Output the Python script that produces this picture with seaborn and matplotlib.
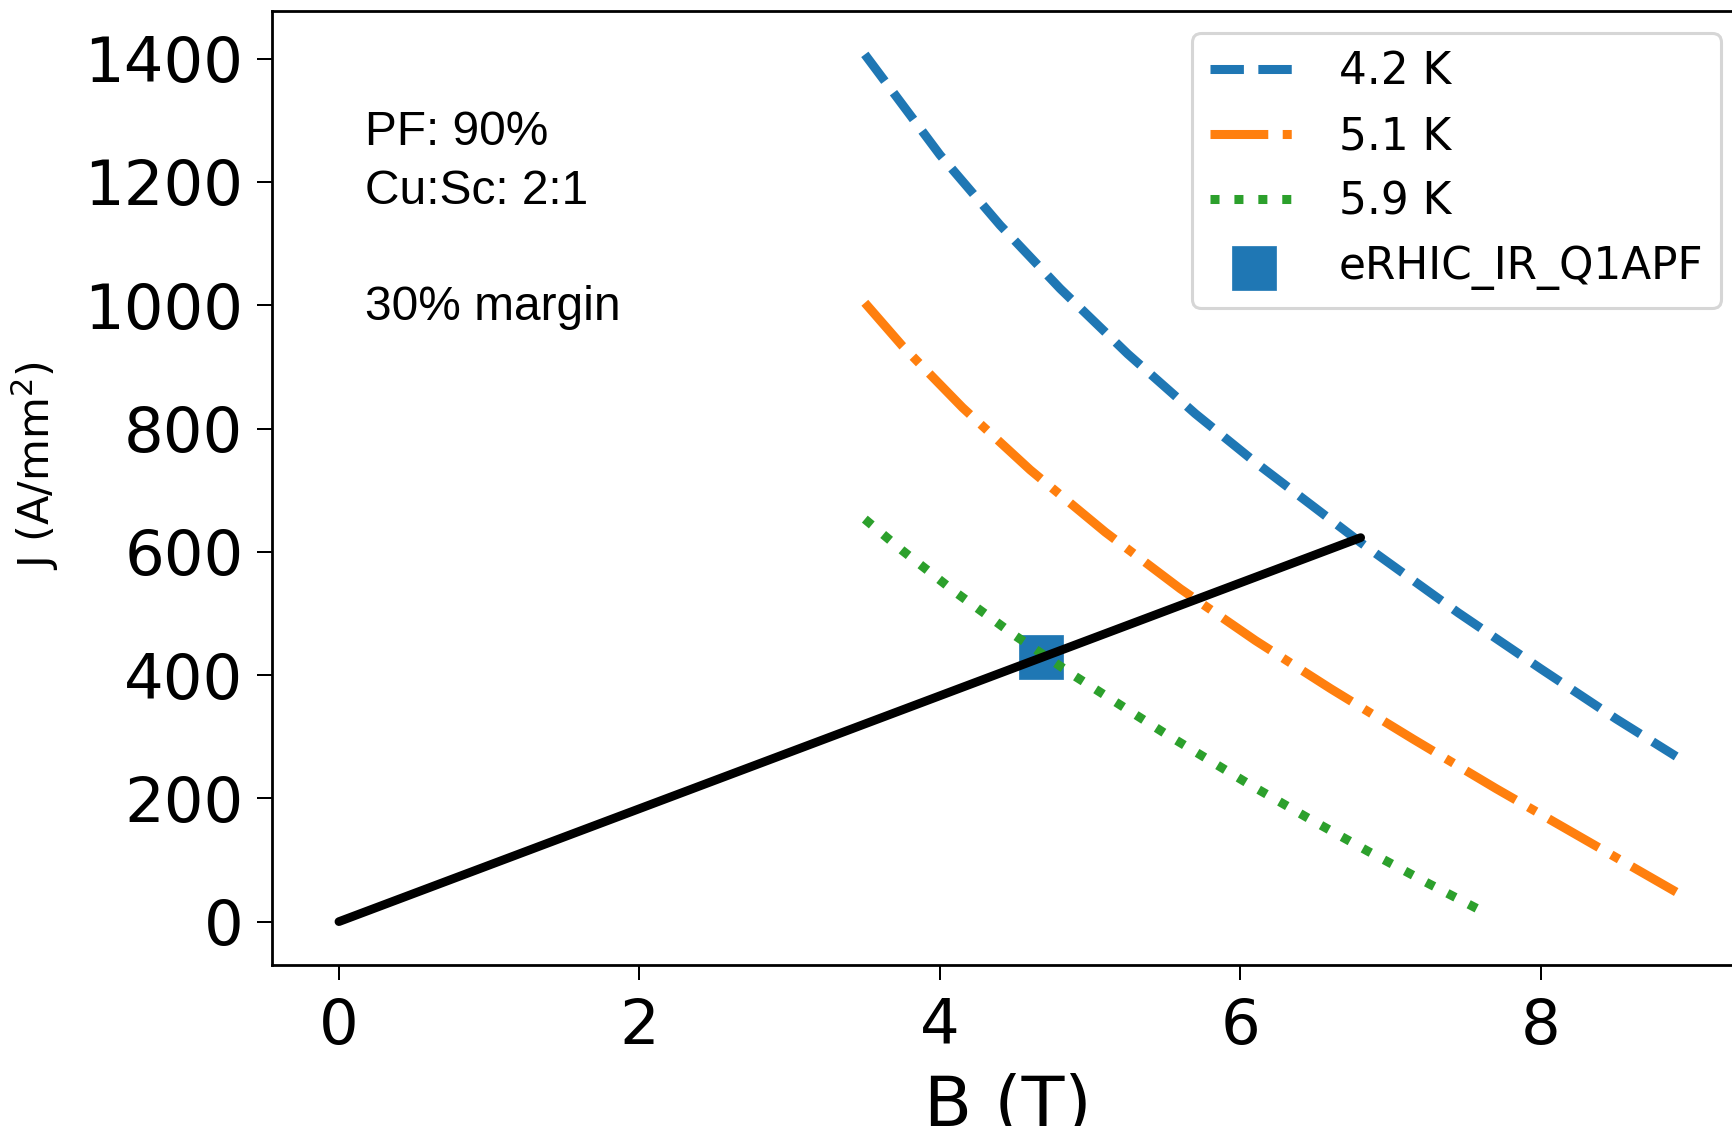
import matplotlib
matplotlib.use("Agg")
import matplotlib.pyplot as plt
import seaborn as sns

# ─── DATA ─────────────────────────────────────────────────────────────────────
B_42 = [3.5, 4.0, 4.4, 4.8, 5.25, 5.7, 6.1, 6.8, 7.45, 8.0, 8.5, 8.9]
J_42 = [1407, 1244, 1130, 1027, 921, 824, 745, 615, 501, 410, 329, 268]

B_51 = [3.5, 3.75, 4.15, 4.6, 5.1, 5.6, 6.1, 6.6, 7.15, 7.7, 8.25, 8.9]
J_51 = [1004, 934, 834, 733, 632, 540, 456, 378, 296, 216, 139, 48]

B_59 = [3.5, 3.75, 4.1, 4.5, 4.9, 5.5, 6.05, 6.45, 6.85, 7.25, 7.6]
J_59 = [653, 602, 535, 464, 398, 305, 224, 168, 114, 62, 18]

# magnet load line and operating point
LOAD_B = [0, 6.8]
LOAD_J = [0, 623]
OP_B = [4.67]
OP_J = [430]

SERIES_LABELS = ["4.2 K", "5.1 K", "5.9 K"]
OP_LABEL = "eRHIC_IR_Q1APF"
NOTE = "PF: 90%\nCu:Sc: 2:1\n\n30% margin"
# ──────────────────────────────────────────────────────────────────────────────

sns.set_theme(style="ticks", rc={
    "axes.edgecolor": "black",
    "axes.labelcolor": "black",
    "text.color": "black",
    "xtick.color": "black",
    "ytick.color": "black",
})
plt.rcParams["font.family"] = ["DejaVu Sans"]

pal = sns.color_palette("tab10")

fig = plt.figure(figsize=(17.33, 11.26), dpi=100)
# axes run past the right edge on purpose (reference is a cropped screenshot)
ax = fig.add_axes([0.157, 0.143, 0.8488, 0.8472])

lw = 6.5
sns.lineplot(x=B_42, y=J_42, color=pal[0], linestyle="--", linewidth=lw,
             label=SERIES_LABELS[0], ax=ax)
sns.lineplot(x=B_51, y=J_51, color=pal[1], linestyle="-.", linewidth=lw,
             label=SERIES_LABELS[1], ax=ax)
sns.lineplot(x=B_59, y=J_59, color=pal[2], linestyle=":", linewidth=lw,
             label=SERIES_LABELS[2], ax=ax)
sns.lineplot(x=LOAD_B, y=LOAD_J, color="black", linewidth=6.3, ax=ax)
sns.scatterplot(x=OP_B, y=OP_J, marker="s", s=960, color=pal[0],
                edgecolor=pal[0], linewidth=0.5, label=OP_LABEL, ax=ax, zorder=1)

ax.text(0.0632, 0.896, NOTE, transform=ax.transAxes, ha="left", va="top",
        fontsize=34.5, family=["Liberation Sans"], linespacing=1.38)

ax.set_xlabel("B (T)", fontsize=50.5, labelpad=12)
ax.set_ylabel("J (A/mm$^2$)", fontsize=31)
ax.yaxis.set_label_coords(-0.1436, 0.523)
ax.set_xticks([0, 2, 4, 6, 8])
ax.set_yticks([0, 200, 400, 600, 800, 1000, 1200, 1400])

ax.tick_params(direction="out", length=10.8, width=1.44, labelsize=45)
ax.tick_params(axis="x", pad=12)
ax.tick_params(axis="y", pad=9.8)
for sp in ax.spines.values():
    sp.set_visible(True)
    sp.set_linewidth(2.0)

leg = ax.legend(loc="upper right", fontsize=31.5, frameon=True, framealpha=0.8,
                edgecolor="0.8", fancybox=True, handletextpad=0.95)
leg.get_frame().set_linewidth(2.2)

fig.savefig("out.png", dpi=100)
plt.close(fig)
